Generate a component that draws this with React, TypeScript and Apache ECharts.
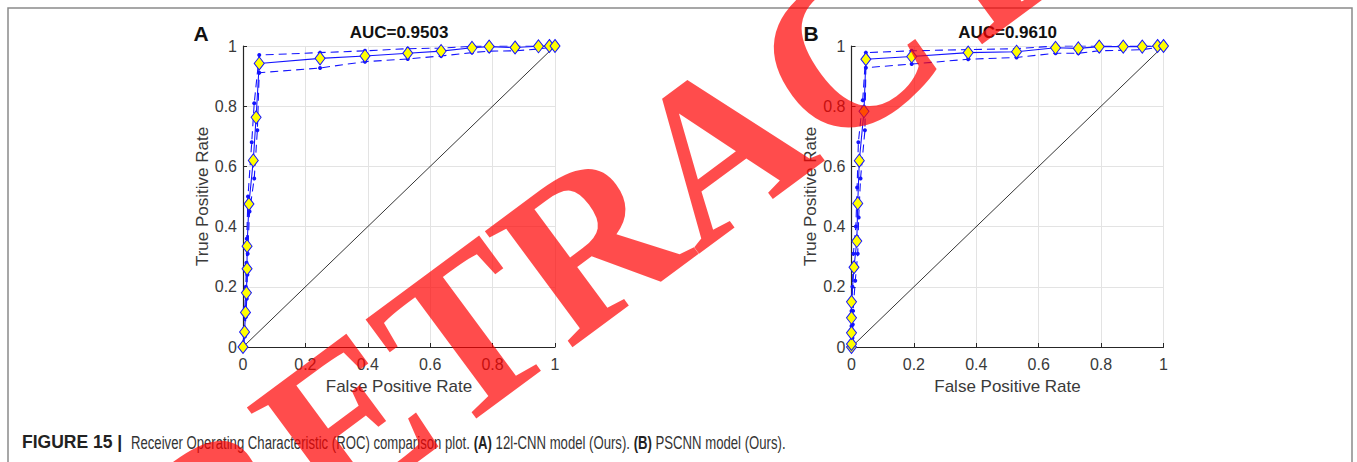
import React, { useEffect, useRef } from "react";
import * as echarts from "echarts";

// ---------- data ----------
const axisTicks = [0, 0.2, 0.4, 0.6, 0.8, 1];
const titleA = "AUC=0.9503";
const titleB = "AUC=0.9610";
const panelLabels = ["A", "B"];
const xName = "False Positive Rate";
const yName = "True Positive Rate";
const watermark = "RETRACTED";
const captionLead = "FIGURE 15 |";
const captionBody =
  "{r|Receiver Operating Characteristic (ROC) comparison plot.} {b|(A)} {r|12l-CNN model (Ours).} {b|(B)} {r|PSCNN model (Ours).}";

const diagonal: [number, number][] = [
  [0, 0],
  [1, 1],
];

// Panel A (12l-CNN): mean ROC and confidence bounds [FPR, TPR]
const meanA: [number, number][] = [
  [0, 0], [0.005, 0.05], [0.008, 0.115], [0.011, 0.18], [0.013, 0.26], [0.013, 0.335],
  [0.019, 0.475], [0.033, 0.62], [0.042, 0.763], [0.052, 0.942], [0.247, 0.959],
  [0.391, 0.967], [0.528, 0.976], [0.635, 0.983], [0.734, 0.994], [0.789, 0.998],
  [0.872, 0.995], [0.947, 0.999], [0.982, 1], [1, 1],
];
const upperA: [number, number][] = [
  [0, 0], [0.003, 0.06], [0.006, 0.13], [0.009, 0.2], [0.011, 0.28], [0.012, 0.36],
  [0.016, 0.5], [0.028, 0.68], [0.036, 0.81], [0.052, 0.97], [0.247, 0.978],
  [0.391, 0.984], [0.528, 0.991], [0.635, 0.993], [0.734, 0.999], [0.789, 1],
  [0.872, 1], [0.947, 1], [0.982, 1], [1, 1],
];
const lowerA: [number, number][] = [
  [0, 0], [0.006, 0.035], [0.009, 0.1], [0.012, 0.16], [0.014, 0.24], [0.015, 0.31],
  [0.021, 0.45], [0.036, 0.56], [0.046, 0.72], [0.052, 0.911], [0.247, 0.927],
  [0.391, 0.948], [0.528, 0.957], [0.635, 0.967], [0.734, 0.978], [0.789, 0.983],
  [0.872, 0.984], [0.947, 0.99], [0.982, 0.995], [1, 1],
];

// Panel B (PSCNN)
const meanB: [number, number][] = [
  [0, 0], [0, 0.01], [0, 0.047], [0, 0.097], [0, 0.15], [0.008, 0.265], [0.017, 0.352],
  [0.02, 0.477], [0.025, 0.619], [0.04, 0.783], [0.046, 0.956], [0.193, 0.965],
  [0.374, 0.978], [0.529, 0.981], [0.654, 0.994], [0.727, 0.992], [0.794, 0.998],
  [0.871, 0.998], [0.932, 0.998], [0.981, 1], [1, 1],
];
const upperB: [number, number][] = [
  [0, 0], [0, 0.02], [0, 0.07], [0, 0.12], [0.003, 0.2], [0.006, 0.31], [0.014, 0.4],
  [0.018, 0.53], [0.022, 0.68], [0.036, 0.82], [0.046, 0.978], [0.193, 0.984],
  [0.374, 0.988], [0.529, 0.991], [0.654, 1], [0.727, 1], [0.794, 1], [0.871, 1],
  [0.932, 1], [0.981, 1], [1, 1],
];
const lowerB: [number, number][] = [
  [0, 0], [0.002, 0.005], [0.003, 0.03], [0.004, 0.075], [0.005, 0.12], [0.012, 0.22],
  [0.02, 0.31], [0.023, 0.43], [0.029, 0.56], [0.043, 0.72], [0.046, 0.928],
  [0.193, 0.94], [0.374, 0.956], [0.529, 0.962], [0.654, 0.976], [0.727, 0.976],
  [0.794, 0.984], [0.871, 0.986], [0.932, 0.988], [0.981, 0.995], [1, 1],
];

// ---------- styling ----------
const FONT = "'Liberation Sans', Arial, Helvetica, sans-serif";
const AXIS_COLOR = "#262626";
const TEXT_COLOR = "#3a3a3a";
const BLUE = "#1414ff";
const YELLOW = "#ffff00";

function makeAxis(kind: "x" | "y", gridIndex: number) {
  return {
    type: "value",
    gridIndex,
    min: axisTicks[0],
    max: axisTicks[axisTicks.length - 1],
    interval: axisTicks[1] - axisTicks[0],
    name: kind === "x" ? xName : yName,
    nameLocation: "middle",
    nameGap: 31,
    nameRotate: kind === "x" ? 0 : 90,
    nameTextStyle: { fontFamily: FONT, fontSize: 17, color: TEXT_COLOR },
    axisLine: { show: true, onZero: false, lineStyle: { color: AXIS_COLOR, width: 1.2 } },
    axisTick: { show: true, inside: true, length: 4, lineStyle: { color: AXIS_COLOR, width: 1 } },
    axisLabel: {
      fontFamily: FONT,
      fontSize: 16,
      color: TEXT_COLOR,
      margin: kind === "x" ? 9 : 6,
    },
    splitLine: { show: true, lineStyle: { color: "#e3e3e3", width: 1 } },
  };
}

function panelSeries(idx: number, mean: [number, number][], upper: [number, number][], lower: [number, number][]) {
  const bound = (data: [number, number][], name: string) => ({
    name,
    type: "line",
    xAxisIndex: idx,
    yAxisIndex: idx,
    data,
    symbol: "circle",
    symbolSize: 4,
    showSymbol: true,
    lineStyle: { color: BLUE, width: 1.1, type: [8, 5] },
    itemStyle: { color: BLUE, borderWidth: 0 },
    z: 3,
  });
  return [
    {
      name: "chance",
      type: "line",
      xAxisIndex: idx,
      yAxisIndex: idx,
      data: diagonal,
      symbol: "none",
      lineStyle: { color: "#000", width: 0.8 },
      z: 2,
    },
    bound(upper, "upper"),
    bound(lower, "lower"),
    {
      name: "mean",
      type: "line",
      xAxisIndex: idx,
      yAxisIndex: idx,
      data: mean,
      symbol: "diamond",
      symbolSize: [10, 13],
      showSymbol: true,
      lineStyle: { color: BLUE, width: 1.1 },
      itemStyle: { color: YELLOW, borderColor: BLUE, borderWidth: 1 },
      z: 4,
    },
  ];
}

export default function App() {
  const ref = useRef<HTMLDivElement>(null);

  useEffect(() => {
    document.body.style.margin = "0";
    const chart = echarts.init(ref.current!, null, { renderer: "svg" });

    const gridTop = 46;
    const gridH = 301;
    const gridW = 312;
    const leftA = 243;
    const leftB = 851.5;
    const centers = [leftA + gridW / 2, leftB + gridW / 2];

    const titleStyle = (text: string, size: number) => ({
      text,
      fontFamily: FONT,
      fontSize: size,
      fontWeight: "bold",
      fill: "#111",
      align: "center",
      verticalAlign: "middle",
    });

    const option = {
      animation: false,
      backgroundColor: "#fff",
      grid: [
        { left: leftA, top: gridTop, width: gridW, height: gridH },
        { left: leftB, top: gridTop, width: gridW, height: gridH },
      ],
      xAxis: [makeAxis("x", 0), makeAxis("x", 1)],
      yAxis: [makeAxis("y", 0), makeAxis("y", 1)],
      series: [...panelSeries(0, meanA, upperA, lowerA), ...panelSeries(1, meanB, upperB, lowerB)],
      graphic: [
        {
          type: "rect",
          shape: { x: 8, y: 8, width: 1344, height: 470 },
          style: { fill: "none", stroke: "#8a8a8a", lineWidth: 1.5 },
          silent: true,
          z: 0,
        },
        { type: "text", x: centers[0], y: 32, style: titleStyle(titleA, 17) },
        { type: "text", x: centers[1], y: 32, style: titleStyle(titleB, 17) },
        { type: "text", x: 201, y: 33, style: titleStyle(panelLabels[0], 21) },
        { type: "text", x: 811, y: 33, style: titleStyle(panelLabels[1], 21) },
        {
          type: "text",
          x: 22,
          y: 442,
          style: {
            text: captionLead,
            fontFamily: FONT,
            fontSize: 17.5,
            fontWeight: "bold",
            fill: "#222",
            align: "left",
            verticalAlign: "middle",
          },
        },
        {
          type: "text",
          x: 131,
          y: 442,
          scaleX: 0.692,
          style: {
            text: captionBody,
            fontFamily: FONT,
            fontSize: 19,
            fill: "#333",
            align: "left",
            verticalAlign: "middle",
            rich: {
              b: { fontFamily: FONT, fontSize: 19, fontWeight: "bold", fill: "#222" },
              r: { fontFamily: FONT, fontSize: 19, fill: "#333" },
            },
          },
        },
        {
          type: "text",
          x: 717,
          y: 147,
          rotation: (36.5 * Math.PI) / 180,
          silent: true,
          z: 100,
          style: {
            text: watermark,
            fontFamily: "'Liberation Serif', 'Times New Roman', serif",
            fontSize: 222,
            fontWeight: "bold",
            fill: "rgba(255,0,0,0.7)",
            align: "center",
            verticalAlign: "middle",
          },
        },
      ],
    };

    chart.setOption(option as any);
    return () => chart.dispose();
  }, []);

  return <div ref={ref} style={{ width: 1357, height: 462 }} />;
}
